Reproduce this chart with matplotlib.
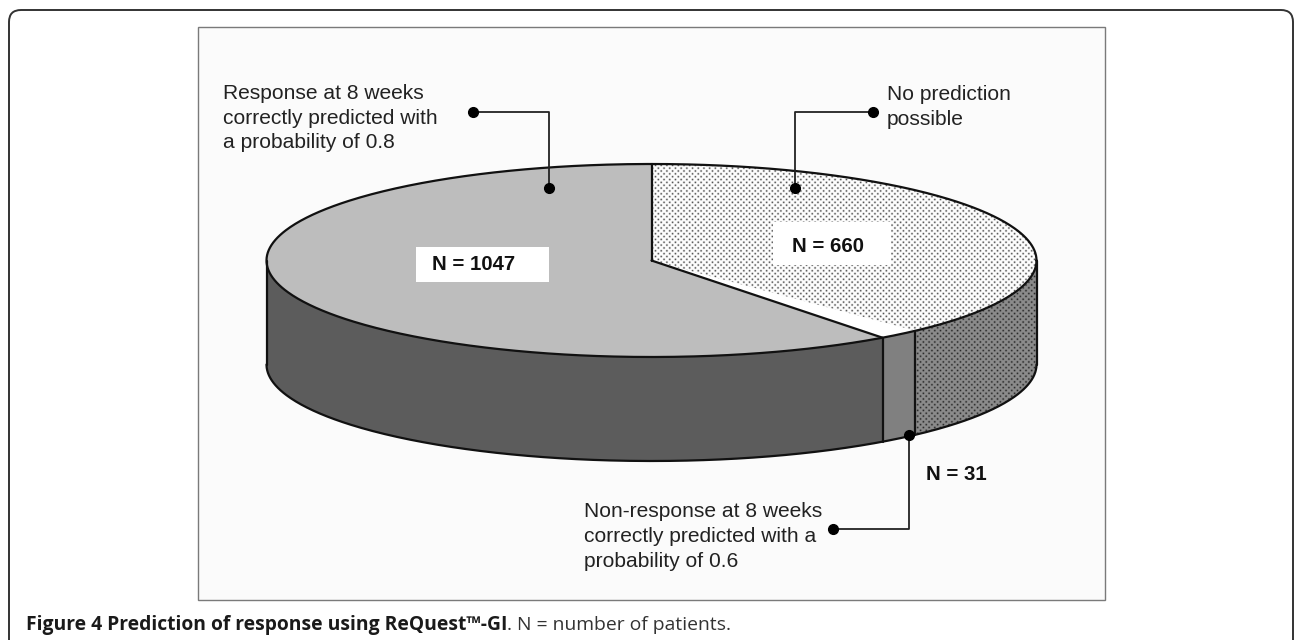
import numpy as np
import matplotlib
matplotlib.use("Agg")
import matplotlib.pyplot as plt
from matplotlib.patches import FancyBboxPatch, Rectangle, Polygon

# slice sizes, clockwise from 12 o'clock
names = ["No prediction", "Non-response", "Response"]
counts = [660, 31, 1047]
count_labels = ["N = 660", "N = 31", "N = 1047"]
top_colors = ["white", "white", "#bdbdbd"]
side_colors = ["#8c8c8c", "#808080", "#5c5c5c"]

response_text = "Response at 8 weeks\ncorrectly predicted with\na probability of 0.8"
noprediction_text = "No prediction\npossible"
nonresponse_text = "Non-response at 8 weeks\ncorrectly predicted with a\nprobability of 0.6"
caption_bold = "Figure 4 Prediction of response using ReQuest\u2122-GI"
caption_rest = ". N = number of patients."

plt.rcParams["font.family"] = ["Liberation Sans", "DejaVu Sans"]

fig = plt.figure(figsize=(12.95, 6.40), dpi=100)
ax = fig.add_axes([0, 0, 1, 1])
ax.set_xlim(0, 1295)
ax.set_ylim(640, 0)
ax.axis("off")

# outer frame and inner picture box
ax.add_patch(FancyBboxPatch((9, 10), 1284, 700, boxstyle="round,pad=0,rounding_size=12",
                            fc="white", ec="#333333", lw=1.4, clip_on=True))
ax.add_patch(Rectangle((198, 27), 907, 573, fc="#fbfbfb", ec="#7a7a7a", lw=1.0))

cx, cy, rx, ry, depth = 651.5, 260.5, 385, 96.5, 104

def ell(a):
    a = np.radians(a)
    return cx + rx * np.cos(a), cy - ry * np.sin(a)

# staggered dot screen, clipped to a polygon
def dots(xs, ys, zorder, grey, peak):
    yy, xx = np.mgrid[0:640, 0:1295] + 0.5
    s = 5.7
    a, b = xx / s, yy / s
    d1 = np.hypot(a - np.round(a), b - np.round(b))
    d2 = np.hypot(a + 0.5 - np.round(a + 0.5), b + 0.5 - np.round(b + 0.5))
    alpha = peak * np.exp(-(np.minimum(d1, d2) * s / 0.95) ** 2)
    img = np.zeros((640, 1295, 4))
    img[..., :3] = grey
    img[..., 3] = alpha
    im = ax.imshow(img, extent=(0, 1295, 640, 0), aspect="auto", interpolation="nearest", zorder=zorder)
    patch = Polygon(np.c_[xs, ys], transform=ax.transData, fc="none", lw=0)
    ax.add_patch(patch)
    im.set_clip_path(patch)
    ax.set_xlim(0, 1295)
    ax.set_ylim(640, 0)

# angles from the counts
sweep = np.array(counts) / sum(counts) * 360
ends = 90 - np.cumsum(sweep)
starts = ends + sweep

# side wall, front half only
for i in range(3):
    a0 = min(starts[i], 0)
    a1 = max(ends[i], -180)
    t = np.linspace(a0, a1, 200)
    x, y = ell(t)
    xs = np.r_[x, x[::-1]]
    ys = np.r_[y, y[::-1] + depth]
    ax.fill(xs, ys, fc=side_colors[i], lw=0, zorder=2)
    if i == 0:
        dots(xs, ys, 2.5, 0.12, 0.9)

# top faces
for i in range(3):
    t = np.linspace(starts[i], ends[i], 300)
    x, y = ell(t)
    xs = np.r_[cx, x]
    ys = np.r_[cy, y]
    ax.fill(xs, ys, fc=top_colors[i], lw=0, zorder=3)
    if i == 0:
        dots(xs, ys, 3.5, 0.2, 0.85)

# outlines
line = dict(color="#111111", lw=1.6, zorder=4, solid_capstyle="round")
t = np.linspace(0, 360, 720)
ax.plot(*ell(t), **line)
t = np.linspace(0, -180, 360)
x, y = ell(t)
ax.plot(x, y + depth, **line)
ax.plot([cx - rx, cx - rx], [cy, cy + depth], **line)
ax.plot([cx + rx, cx + rx], [cy, cy + depth], **line)
for a in [starts[0], ends[1]]:
    x, y = ell(a)
    ax.plot([cx, x], [cy, y], **line)
for a in [ends[0], ends[1]]:
    x, y = ell(a)
    ax.plot([x, x], [y, y + depth], **line)

# leaders
lead = dict(color="#222222", lw=1.3, zorder=5)
dot = dict(color="black", ms=7, marker="o", ls="none", zorder=6)
for xs, ys in [([473, 549, 549], [112, 112, 188]),
               ([873, 795, 795], [112, 112, 188]),
               ([833, 909, 909], [529, 529, 435])]:
    ax.plot(xs, ys, **lead)
    ax.plot([xs[0], xs[-1]], [ys[0], ys[-1]], **dot)

# labels
txt = dict(fontsize=15.1, color="#222222", linespacing=1.39, va="center", ha="left", zorder=7)
ax.text(223, 118, response_text, **txt)
ax.text(887, 107, noprediction_text, **txt)
ax.text(584, 536.5, nonresponse_text, **txt)

bold = dict(fontsize=14.7, fontweight="bold", color="#111111", va="center", ha="center", zorder=7)
ax.add_patch(Rectangle((773, 222), 118, 43, fc="white", lw=0, zorder=5))
ax.add_patch(Rectangle((416, 247), 133, 35, fc="white", lw=0, zorder=5))
ax.text(828.5, 246, count_labels[0], **bold)
ax.text(473.5, 265, count_labels[2], **bold)
ax.text(956, 475, count_labels[1], **bold)

# caption
cap = ax.text(26, 625, caption_bold, fontsize=13.9, fontweight="bold", family=["Open Sans", "DejaVu Sans"],
              color="#1a1a1a", va="center", ha="left")
ax.annotate(caption_rest, xy=(1, 0.5), xycoords=cap, fontsize=13.9, family=["Open Sans", "DejaVu Sans"],
            color="#333333", va="center", ha="left")

fig.savefig("out.png", dpi=100)
